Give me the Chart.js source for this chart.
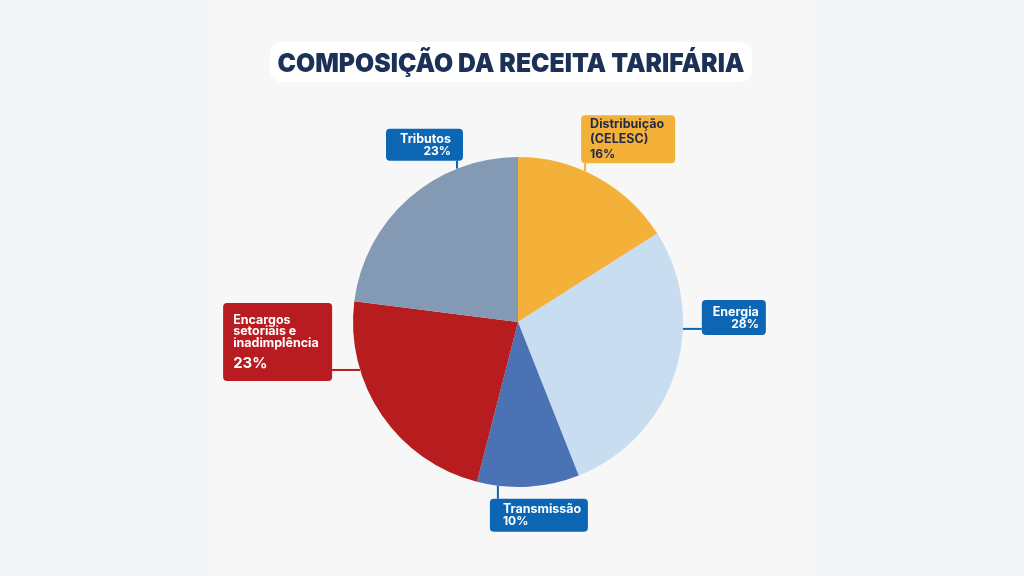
<!DOCTYPE html>
<html>
<head>
<meta charset="utf-8">
<script src="https://cdn.jsdelivr.net/npm/chart.js@4"></script>
<style>
  html, body { margin: 0; padding: 0; }
  body { width: 1024px; height: 576px; background: #f3f4f6; position: relative; overflow: hidden; }
  #panel { position: absolute; left: 208px; top: 0; width: 608px; height: 576px; background: #f7f7f7; }
  #wrap { position: absolute; left: 0; top: 0; width: 1024px; height: 576px; }
</style>
</head>
<body>
<div id="panel"></div>
<div id="wrap"><canvas id="chart" width="1024" height="576"></canvas></div>
<script>
const title = 'COMPOSIÇÃO DA RECEITA TARIFÁRIA';
const categories = ['Distribuição (CELESC)', 'Energia', 'Transmissão', 'Encargos setoriais e inadimplência', 'Tributos'];
const shares = [16, 28, 10, 23, 23];
const labelLines = [
    ['Distribuição', '(CELESC)'],
    ['Energia'],
    ['Transmissão'],
    ['Encargos', 'setoriais e', 'inadimplência'],
    ['Tributos']
];
const sliceColors = ['#f4b13a', '#c9ddf0', '#4a72b5', '#b71c1f', '#8499b3'];
const boxColors = ['#f4b13a', '#0d66b4', '#0d66b4', '#b91c20', '#0d66b4'];
const textColors = ['#1e2a45', '#ffffff', '#ffffff', '#ffffff', '#ffffff'];

// callout layout: anchor angle on the rim (deg, clockwise from top), connector direction/length, box size
let callouts = [
    { angle: 24, dir: 'up', len: 8, w: 94, h: 48, shift: 4, align: 'left', pad: 9, base: [13, 28], lh: 15, pctSize: 12 },
    { angle: 92.4, dir: 'right', len: 19, w: 64, h: 35, shift: 29, align: 'right', pad: 7, base: [16], lh: 12, pctSize: 12 },
    { angle: 187, dir: 'down', len: 13, w: 98, h: 33, shift: 8, align: 'left', pad: 13, base: [14], lh: 12, pctSize: 12 },
    { angle: 253.1, dir: 'left', len: 28, w: 109, h: 78, shift: 67, align: 'left', pad: 10, base: [21, 32.5, 44], lh: 21, pctSize: 15 },
    { angle: 338.3, dir: 'up', len: 8, w: 77, h: 32, shift: 71, align: 'right', pad: 12, base: [14], lh: 12, pctSize: 12 }
];

function roundRect(ctx, x, y, w, h, r) {
    ctx.beginPath();
    ctx.moveTo(x + r, y);
    ctx.arcTo(x + w, y, x + w, y + h, r);
    ctx.arcTo(x + w, y + h, x, y + h, r);
    ctx.arcTo(x, y + h, x, y, r);
    ctx.arcTo(x, y, x + w, y, r);
    ctx.closePath();
}

const titlePlugin = {
    id: 'titleBox',
    afterDraw(chart) {
        let ctx = chart.ctx;
        ctx.save();
        ctx.fillStyle = '#ffffff';
        roundRect(ctx, 270, 42, 482, 40, 12);
        ctx.fill();
        ctx.font = '900 26px Inter';
        let w = ctx.measureText(title).width;
        let target = 467;
        ctx.translate(511, 72);
        ctx.scale(target / w, 1);
        ctx.fillStyle = '#1b3157';
        ctx.textAlign = 'center';
        ctx.textBaseline = 'alphabetic';
        ctx.fillText(title, 0, 0);
        ctx.restore();
    }
};

const calloutPlugin = {
    id: 'callouts',
    afterDatasetsDraw(chart) {
        let ctx = chart.ctx;
        let arc = chart.getDatasetMeta(0).data[0];
        let cx = arc.x, cy = arc.y, r = arc.outerRadius;
        ctx.save();
        callouts.forEach((c, i) => {
            let a = c.angle * Math.PI / 180;
            let sx = cx + r * Math.sin(a);
            let sy = cy - r * Math.cos(a);
            let ex = sx, ey = sy;
            let bx, by;
            if (c.dir === 'up') { ey = sy - c.len; bx = ex - c.shift; by = ey - c.h; }
            if (c.dir === 'down') { ey = sy + c.len; bx = ex - c.shift; by = ey; }
            if (c.dir === 'right') { ex = sx + c.len; bx = ex; by = ey - c.shift; }
            if (c.dir === 'left') { ex = sx - c.len; bx = ex - c.w; by = ey - c.shift; }
            ctx.strokeStyle = boxColors[i];
            ctx.lineWidth = 2;
            ctx.beginPath();
            ctx.moveTo(sx, sy);
            ctx.lineTo(ex, ey);
            ctx.stroke();
            ctx.fillStyle = boxColors[i];
            roundRect(ctx, bx, by, c.w, c.h, 4);
            ctx.fill();
            ctx.fillStyle = textColors[i];
            ctx.textAlign = c.align;
            ctx.textBaseline = 'alphabetic';
            let tx = c.align === 'left' ? bx + c.pad : bx + c.w - c.pad;
            ctx.font = '700 12.5px Inter';
            let lines = labelLines[i];
            lines.forEach((ln, k) => ctx.fillText(ln, tx, by + c.base[k]));
            ctx.font = '700 ' + c.pctSize + 'px Inter';
            ctx.fillText(shares[i] + '%', tx, by + c.base[lines.length - 1] + c.lh);
        });
        ctx.restore();
    }
};

new Chart(document.getElementById('chart'), {
    type: 'pie',
    data: {
        labels: categories,
        datasets: [{ data: shares, backgroundColor: sliceColors, borderWidth: 0 }]
    },
    options: {
        responsive: false,
        animation: false,
        layout: { padding: { top: 157, bottom: 89, left: 12, right: 0 } },
        plugins: { legend: { display: false }, tooltip: { enabled: false } }
    },
    plugins: [titlePlugin, calloutPlugin]
});
</script>
</body>
</html>
